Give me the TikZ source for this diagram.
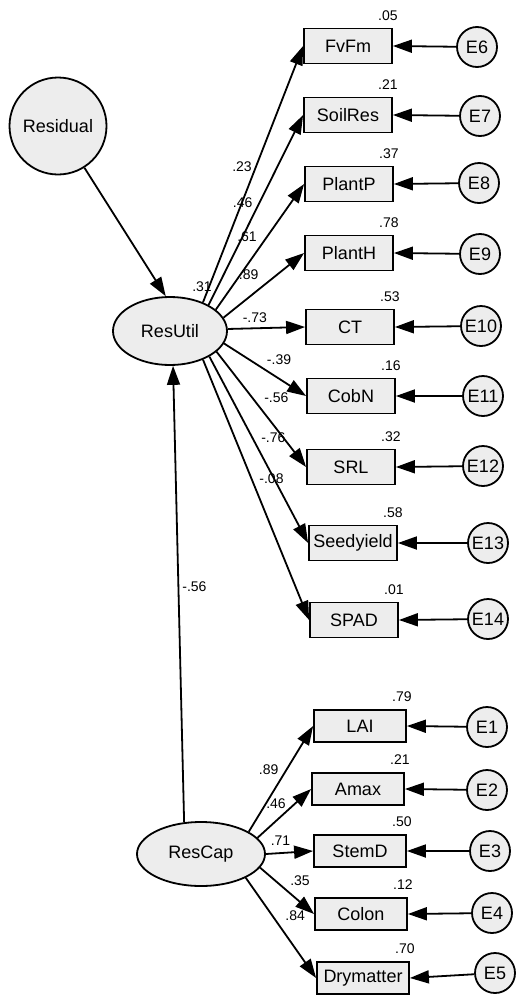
\documentclass[tikz,border=0pt]{standalone}
\usepackage{fontspec}
\setmainfont{Liberation Sans}
\usetikzlibrary{arrows.meta,shapes.geometric}

\newcommand{\nodefont}{\fontsize{18}{20}\selectfont}
\newcommand{\coeffont}{\fontsize{14}{15}\selectfont}

\begin{document}
\begin{tikzpicture}[x=1pt, y=-1pt, line width=1.8pt,
    latent/.style={draw, ellipse, fill=gray!14, font=\nodefont, inner sep=0pt},
    obs/.style={draw, rectangle, fill=gray!14, font=\nodefont, minimum width=88pt, minimum height=35pt, inner sep=0pt},
    obsb/.style={obs, minimum width=92pt, minimum height=32pt},
    err/.style={draw, circle, fill=gray!14, font=\nodefont, minimum size=40pt, inner sep=0pt},
    coef/.style={font=\coeffont, inner sep=0pt},
    rsq/.style={font=\coeffont, inner sep=0pt, anchor=center, xshift=-5pt, yshift=12pt},
    link/.style={-{Triangle[length=19pt,width=13pt]}}]
    \useasboundingbox (0,0) rectangle (515,996);

    % latent variables
    \node[err, minimum size=97pt] (Residual) at (58,126) {Residual};
    \node[latent, minimum width=114pt, minimum height=68pt] (ResUtil) at (170,331) {ResUtil};
    \node[latent, minimum width=128pt, minimum height=64pt] (ResCap) at (201,854) {ResCap};
    \node[coef] (r2util) at (202,287) {.31};

    % indicators of ResUtil
    \node[obs, label={[rsq]north east:.05}] (FvFm) at (348,46) {FvFm};
    \node[obs, label={[rsq]north east:.21}] (SoilRes) at (348,115) {SoilRes};
    \node[obs, label={[rsq]north east:.37}] (PlantP) at (349,184) {PlantP};
    \node[obs, label={[rsq]north east:.78}] (PlantH) at (349,253) {PlantH};
    \node[obs, label={[rsq]north east:.53}] (CT) at (350,327) {CT};
    \node[obs, label={[rsq]north east:.16}] (CobN) at (351,396) {CobN};
    \node[obs, label={[rsq]north east:.32}] (SRL) at (351,467) {SRL};
    \node[obs, label={[rsq]north east:.58}] (Seedyield) at (353,543) {Seedyield};
    \node[obs, label={[rsq]north east:.01}] (SPAD) at (354,620) {SPAD};

    % indicators of ResCap
    \node[obsb, label={[rsq]north east:.79}] (LAI) at (360,726) {LAI};
    \node[obsb, label={[rsq]north east:.21}] (Amax) at (358,789) {Amax};
    \node[obsb, label={[rsq]north east:.50}] (StemD) at (360,851) {StemD};
    \node[obsb, label={[rsq]north east:.12}] (Colon) at (361,914) {Colon};
    \node[obsb, label={[rsq]north east:.70}] (Drymatter) at (363,978) {Drymatter};

    % errors
    \node[err] (E6) at (477,47) {E6};
    \node[err] (E7) at (480,116) {E7};
    \node[err] (E8) at (479,183) {E8};
    \node[err] (E9) at (480,254) {E9};
    \node[err] (E10) at (481,326) {E10};
    \node[err] (E11) at (483,396) {E11};
    \node[err] (E12) at (483,466) {E12};
    \node[err] (E13) at (488,543) {E13};
    \node[err] (E14) at (488,619) {E14};
    \node[err] (E1) at (487,727) {E1};
    \node[err] (E2) at (487,790) {E2};
    \node[err] (E3) at (490,851) {E3};
    \node[err] (E4) at (492,913) {E4};
    \node[err] (E5) at (495,973) {E5};

    % structural paths
    \draw[link] (Residual) -- (ResUtil.97);
    \draw[link] (ResCap.118) -- node[coef, pos=0.516, xshift=16pt] {-.56} (ResUtil.-85);

    % loadings of ResUtil
    \draw[link] (ResUtil.41) -- node[coef, pos=0.53, xshift=-14pt] {.23} (FvFm.west);
    \draw[link] (ResUtil.34) -- node[coef, pos=0.54, xshift=-17pt] {.46} (SoilRes.west);
    \draw[link] (ResUtil.25) -- node[coef, pos=0.58, xshift=-20pt] {.61} (PlantP.west);
    \draw[link] (ResUtil.14) -- node[coef, pos=0.66, xshift=-28pt] {.89} (PlantH.west);
    \draw[link] (ResUtil.2) -- node[coef, pos=0.35, yshift=11pt] {-.73} (CT.west);
    \draw[link] (ResUtil.-13) -- node[coef, pos=0.67, yshift=19pt] {-.39} (CobN.west);
    \draw[link] (ResUtil.-24) -- node[coef, pos=0.40, xshift=24pt] {-.56} (SRL.west);
    \draw[link] (ResUtil.-33) -- node[coef, pos=0.435, xshift=21pt] {-.76} (Seedyield.west);
    \draw[link] (ResUtil.-41) -- node[coef, pos=0.457, xshift=20pt] {-.08} (SPAD.west);

    % loadings of ResCap
    \draw[link] (ResCap.25) -- node[coef, pos=0.59, xshift=-18pt] {.89} (LAI.west);
    \draw[link] (ResCap.16) -- node[coef, pos=0.70, xshift=-19pt] {.46} (Amax.west);
    \draw[link] (ResCap.0) -- node[coef, pos=0.31, yshift=12pt] {.71} (StemD.west);
    \draw[link] (ResCap.-13) -- node[coef, pos=0.74, yshift=21pt] {.35} (Colon.west);
    \draw[link] (ResCap.-28) -- node[coef, pos=0.375, xshift=23pt] {.84} (Drymatter.west);

    % error terms
    \draw[link] (E6) -- (FvFm.east);
    \draw[link] (E7) -- (SoilRes.east);
    \draw[link] (E8) -- (PlantP.east);
    \draw[link] (E9) -- (PlantH.east);
    \draw[link] (E10) -- (CT.east);
    \draw[link] (E11) -- (CobN.east);
    \draw[link] (E12) -- (SRL.east);
    \draw[link] (E13) -- (Seedyield.east);
    \draw[link] (E14) -- (SPAD.east);
    \draw[link] (E1) -- (LAI.east);
    \draw[link] (E2) -- (Amax.east);
    \draw[link] (E3) -- (StemD.east);
    \draw[link] (E4) -- (Colon.east);
    \draw[link] (E5) -- (Drymatter.east);
\end{tikzpicture}
\end{document}
